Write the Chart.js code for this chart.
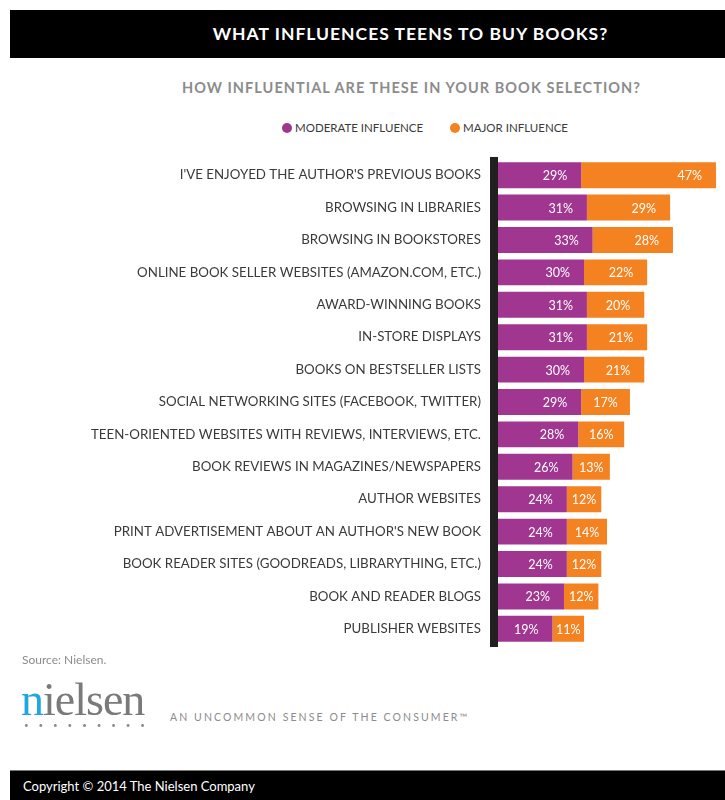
<!DOCTYPE html>
<html>
<head>
<meta charset="utf-8">
<script src="https://cdn.jsdelivr.net/npm/chart.js@4.4.0/dist/chart.umd.min.js"></script>
<style>
  html, body { margin: 0; padding: 0; background: #fff; }
  body { width: 725px; height: 800px; position: relative; overflow: hidden; font-family: Lato, sans-serif; }
  #titlebar { position: absolute; left: 10px; top: 10px; width: 715px; height: 48px; background: #000; }
  #title { position: absolute; left: 10px; width: 715px; top: 23px; text-align: center; color: #fff; font-weight: bold; font-size: 17.5px; letter-spacing: 1px; padding-left: 86px; box-sizing: border-box; }
  #subtitle { position: absolute; left: 0; width: 725px; top: 79px; text-align: center; color: #8c8c8c; font-weight: bold; font-size: 14.5px; letter-spacing: 1.05px; padding-left: 98px; box-sizing: border-box; }
  #legend { position: absolute; top: 121px; left: 282px; font-size: 11.5px; color: #3a3a3a; }
  #legend span.item { position: absolute; white-space: nowrap; }
  #legend i { display: inline-block; width: 10px; height: 10px; border-radius: 50%; vertical-align: -1px; margin-right: 3px; }
  #wrap { position: absolute; left: 0; top: 134px; width: 725px; height: 536px; }
  #source { position: absolute; left: 22px; top: 652px; font-size: 12px; color: #8c8c8c; }
  #logo { position: absolute; left: 21px; top: 677px; font-family: "Liberation Serif", serif; font-size: 46px; color: #7a7a7a; letter-spacing: -1px; line-height: 46px; }
  #logo .n { color: #1fa8e0; }
  #dots { position: absolute; left: 24px; top: 720px; font-size: 8px; color: #8c8c8c; letter-spacing: 9.9px; }
  #tagline { position: absolute; left: 170px; top: 711px; font-size: 10.5px; color: #8c8c8c; letter-spacing: 2.1px; }
  #footer { position: absolute; left: 10px; top: 770px; width: 715px; height: 30px; background: #000; border-top: 1px solid #777; }
  #copy { position: absolute; left: 23px; top: 778px; color: #fff; font-size: 13px; }
</style>
</head>
<body>
<div id="titlebar"></div>
<div id="title">WHAT INFLUENCES TEENS TO BUY BOOKS?</div>
<div id="subtitle">HOW INFLUENTIAL ARE THESE IN YOUR BOOK SELECTION?</div>
<div id="legend"></div>
<div id="wrap"><canvas id="chart" width="725" height="536"></canvas></div>
<div id="source">Source: Nielsen.</div>
<div id="logo"><span class="n">n</span>ielsen</div>
<div id="dots">•••••••••</div>
<div id="tagline">AN UNCOMMON SENSE OF THE CONSUMER™</div>
<div id="footer"></div>
<div id="copy">Copyright © 2014 The Nielsen Company</div>

<script>
// chart data, read from the infographic
var categories = [
  "I'VE ENJOYED THE AUTHOR'S PREVIOUS BOOKS",
  "BROWSING IN LIBRARIES",
  "BROWSING IN BOOKSTORES",
  "ONLINE BOOK SELLER WEBSITES (AMAZON.COM, ETC.)",
  "AWARD-WINNING BOOKS",
  "IN-STORE DISPLAYS",
  "BOOKS ON BESTSELLER LISTS",
  "SOCIAL NETWORKING SITES (FACEBOOK, TWITTER)",
  "TEEN-ORIENTED WEBSITES WITH REVIEWS, INTERVIEWS, ETC.",
  "BOOK REVIEWS IN MAGAZINES/NEWSPAPERS",
  "AUTHOR WEBSITES",
  "PRINT ADVERTISEMENT ABOUT AN AUTHOR'S NEW BOOK",
  "BOOK READER SITES (GOODREADS, LIBRARYTHING, ETC.)",
  "BOOK AND READER BLOGS",
  "PUBLISHER WEBSITES"
];
var moderate = [29, 31, 33, 30, 31, 31, 30, 29, 28, 26, 24, 24, 24, 23, 19];
var major    = [47, 29, 28, 22, 20, 21, 21, 17, 16, 13, 12, 14, 12, 12, 11];
var seriesNames = ['MODERATE INFLUENCE', 'MAJOR INFLUENCE'];

var PURPLE = '#a0368f';
var ORANGE = '#f58220';

// legend (html so it can sit where the original has it)
var legendEl = document.getElementById('legend');
[[seriesNames[0], PURPLE, 0], [seriesNames[1], ORANGE, 168]].forEach(function (l) {
  var s = document.createElement('span');
  s.className = 'item';
  s.style.left = l[2] + 'px';
  s.innerHTML = '<i style="background:' + l[1] + '"></i>' + l[0];
  legendEl.appendChild(s);
});

// dark vertical bar at the base of the bars
var axisBar = {
  id: 'axisBar',
  afterDatasetsDraw: function (chart) {
    var a = chart.chartArea, ctx = chart.ctx;
    ctx.save();
    ctx.fillStyle = '#231f20';
    ctx.fillRect(a.left - 8, a.top - 2, 8, a.bottom - a.top + 4);
    ctx.restore();
  }
};

// white percentage labels at the end of each segment
var barLabels = {
  id: 'barLabels',
  afterDatasetsDraw: function (chart) {
    var ctx = chart.ctx;
    ctx.save();
    ctx.fillStyle = '#fff';
    ctx.font = '12.5px Lato, sans-serif';
    ctx.textBaseline = 'middle';
    chart.data.datasets.forEach(function (ds, di) {
      chart.getDatasetMeta(di).data.forEach(function (bar, i) {
        var w = bar.x - bar.base;
        var txt = ds.data[i] + '%';
        var tw = ctx.measureText(txt).width;
        var pad = Math.min(14, Math.max(1, (w - tw) / 2));
        ctx.textAlign = 'right';
        ctx.fillText(txt, bar.x - pad, bar.y + 1);
      });
    });
    ctx.restore();
  }
};

var ctx = document.getElementById('chart').getContext('2d');
new Chart(ctx, {
  type: 'bar',
  data: {
    labels: categories,
    datasets: [
      { label: seriesNames[0], data: moderate, backgroundColor: PURPLE },
      { label: seriesNames[1], data: major, backgroundColor: ORANGE }
    ]
  },
  options: {
    indexAxis: 'y',
    responsive: false,
    animation: false,
    layout: { padding: { top: 8, bottom: 6, right: 5 } },
    datasets: { bar: { barPercentage: 0.8, categoryPercentage: 1 } },
    plugins: { legend: { display: false }, tooltip: { enabled: false } },
    scales: {
      x: {
        stacked: true, display: false, min: 0, max: 77.4
      },
      y: {
        stacked: true,
        grid: { display: false, drawTicks: false },
        border: { display: false },
        ticks: { color: '#3a3a3a', padding: 17, font: { family: 'Lato, sans-serif', size: 13.3 } },
        afterFit: function (scale) { scale.width = 498; }
      }
    }
  },
  plugins: [axisBar, barLabels]
});
</script>
</body>
</html>
